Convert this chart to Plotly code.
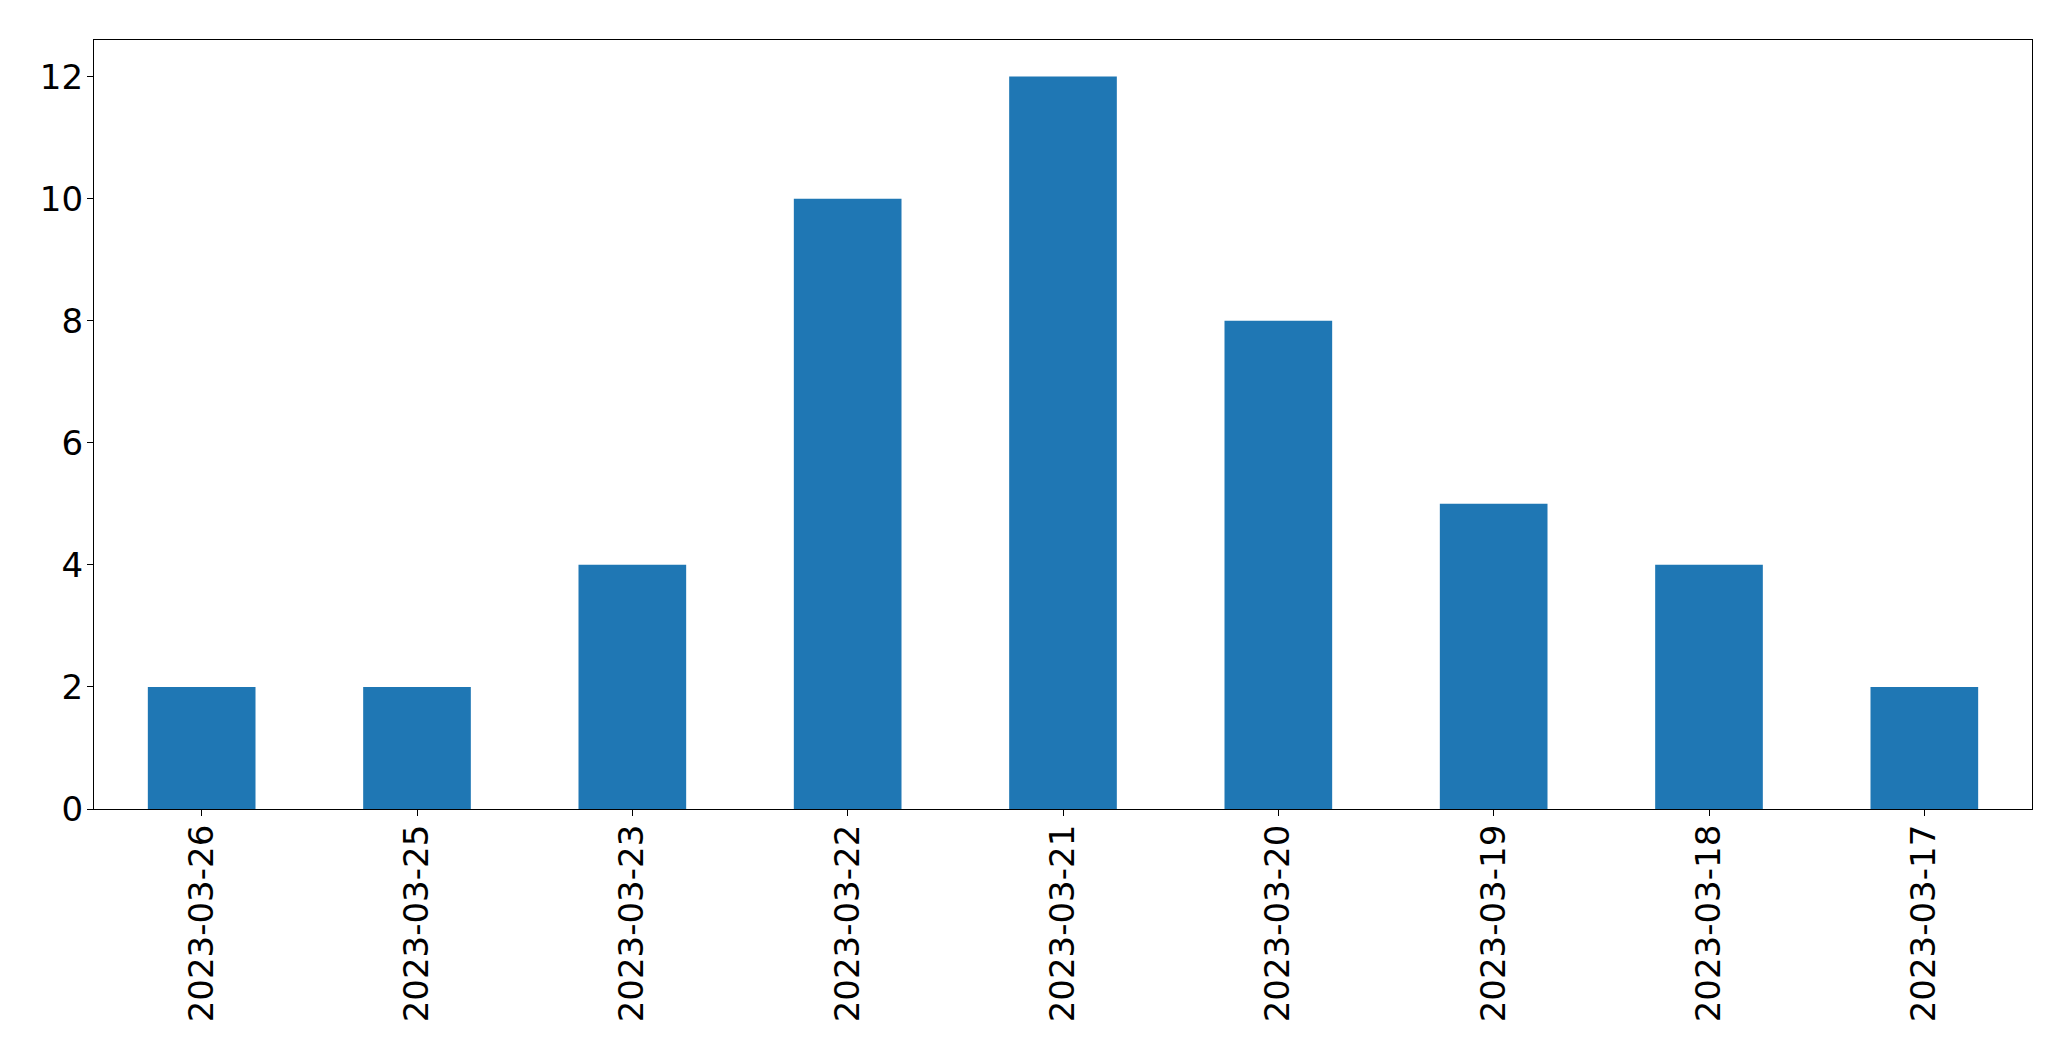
import plotly.graph_objects as go

dates = ["2023-03-26", "2023-03-25", "2023-03-23", "2023-03-22", "2023-03-21",
         "2023-03-20", "2023-03-19", "2023-03-18", "2023-03-17"]
counts = [2, 2, 4, 10, 12, 8, 5, 4, 2]
y_ticks = [0, 2, 4, 6, 8, 10, 12]

fig = go.Figure(go.Bar(x=dates, y=counts, marker=dict(color="#1f77b4", line=dict(width=0)), width=0.5))

font = dict(family="DejaVu Sans", size=34, color="black")
fig.update_layout(
    width=2071, height=1061,
    margin=dict(l=94, r=39, t=40, b=252),
    plot_bgcolor="white", paper_bgcolor="white",
    showlegend=False, font=font,
)
fig.update_xaxes(type="category", range=[-0.5, 8.5], tickangle=-90, showline=True, linecolor="black",
                 linewidth=1.3, mirror=True, ticks="outside", ticklen=6, tickwidth=1.3, tickcolor="black",
                 showgrid=False, tickfont=font, ticklabelstandoff=-5)
fig.update_yaxes(range=[0, 12.6], tickvals=y_ticks, showline=True, linecolor="black", linewidth=1.3,
                 mirror=True, ticks="outside", ticklen=6, tickwidth=1.3, tickcolor="black",
                 showgrid=False, zeroline=False, tickfont=font, ticklabelstandoff=-3)

fig.write_html("out.html", config={"displayModeBar": False},
               post_script="document.body.style.margin='0';document.body.style.overflow='hidden';")
